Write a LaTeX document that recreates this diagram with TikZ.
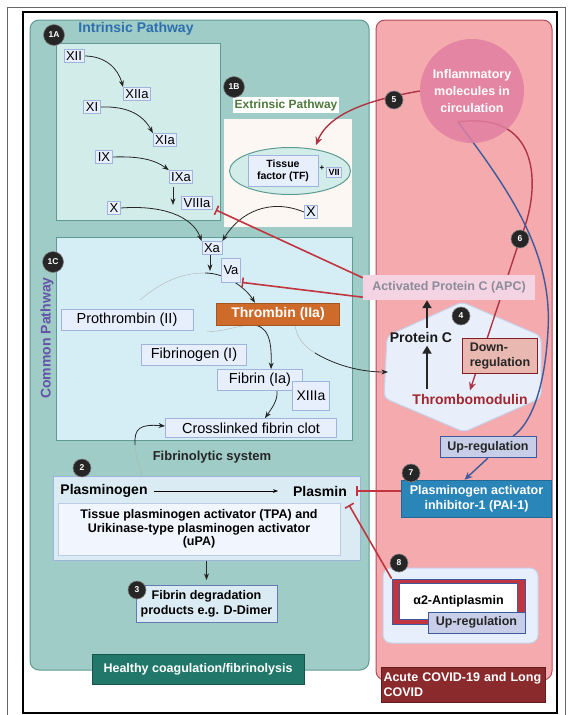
\documentclass[tikz,border=0pt]{standalone}
\usepackage{fontspec}
\setmainfont{Liberation Sans}
\usetikzlibrary{arrows.meta, positioning, shapes.geometric, calc}

\pgfdeclarelayer{panel}
\pgfdeclarelayer{wire}
\pgfsetlayers{panel,wire,main}

\definecolor{tealbg}{HTML}{9FCCC6}
\definecolor{tealln}{HTML}{5E9B94}
\definecolor{intrbg}{HTML}{D2EDE9}
\definecolor{commbg}{HTML}{D5EEF5}
\definecolor{extbg}{HTML}{FCF7F3}
\definecolor{factbg}{HTML}{E8EFFC}
\definecolor{factln}{HTML}{9FB4DC}
\definecolor{fibbg}{HTML}{DAEBF4}
\definecolor{pinkbg}{HTML}{F5AAAE}
\definecolor{pinkln}{HTML}{B24E5C}
\definecolor{inflbg}{HTML}{E07FA2}
\definecolor{inhred}{HTML}{C0353F}
\definecolor{flowred}{HTML}{AE3443}
\definecolor{upblue}{HTML}{3C5A9C}
\definecolor{paibg}{HTML}{2A85B9}
\definecolor{covidbg}{HTML}{8A2A2C}
\definecolor{healthbg}{HTML}{21786A}
\definecolor{thrbg}{HTML}{CE6A2A}
\definecolor{apcbg}{HTML}{F4D4E2}
\definecolor{apctx}{HTML}{8D8B99}
\definecolor{hexbg}{HTML}{E8EEFA}
\definecolor{downbg}{HTML}{E9B8B0}
\definecolor{upbg}{HTML}{C8CEE8}
\definecolor{tmred}{HTML}{A3262F}
\definecolor{extgreen}{HTML}{4D7A3B}
\definecolor{intblue}{HTML}{2E6FAE}
\definecolor{commpurple}{HTML}{6453A8}

\begin{document}
\begin{tikzpicture}[x=1pt, y=-1pt, >=Stealth,
    fact/.style={draw=factln, fill=factbg, line width=0.8pt, inner sep=2pt, font=\fontsize{13}{15}\selectfont},
    lab/.style={draw=factln, fill=factbg, line width=0.8pt, inner sep=0pt, minimum height=21pt, font=\fontsize{14.5}{16}\selectfont},
    badge/.style={circle, fill=black!85, draw=black!50, line width=0.6pt, text=white, inner sep=0pt, minimum size=18pt, font=\fontsize{8.5}{9}\selectfont\bfseries},
    txt/.style={font=\fontsize{12.5}{15}\selectfont\bfseries},
    arr/.style={->, thick, black!85},
    fade/.style={thin, black!30},
    inh/.style={-{Bar[width=10pt, line width=1.6pt]}, inhred, line width=1.6pt},
    bigup/.style={-{Triangle[length=8pt, width=9pt]}, line width=2.2pt, black!85},
    flow/.style={line width=1.4pt, -{Stealth[length=8pt, width=7pt]}}]

    \useasboundingbox (0,0) rectangle (568,715);

    % Panels and frame
    \begin{pgfonlayer}{panel}
        \fill[white] (0,0) rectangle (568,715);
        \draw[black!60, line width=0.6pt] (7,715) -- (7,7) -- (565,7) -- (565,715);
        \draw[line width=2pt] (23,12) rectangle (557,713);
        \draw[tealln, fill=tealbg, rounded corners=9pt, line width=1pt] (30,20) rectangle (369,670);
        \draw[pinkln, fill=pinkbg, rounded corners=9pt, line width=1pt] (376,20) rectangle (552,680);
        \draw[tealln, fill=intrbg, line width=1pt] (56,43) rectangle (220,220);
        \fill[extbg] (224,119) rectangle (352,227);
        \draw[tealln, fill=commbg, line width=1pt] (56,237) rectangle (352,440);
        % Fibrinolysis boxes
        \node[draw=factln, fill=fibbg, line width=1pt, minimum width=307pt, minimum height=84pt, inner sep=0pt] (fib) at (206.5,518) {};
        \node[draw=factln!70, fill=factbg!60!white, line width=0.8pt, minimum width=282pt, minimum height=52pt, inner sep=0pt,
              align=center, font=\fontsize{12.5}{13.5}\selectfont\bfseries] (tpa) at (199,529)
              {Tissue plasminogen activator (TPA) and\\Urikinase-type plasminogen activator\\(uPA)};
        % Protein C hexagon
        \draw[factln!60, fill=hexbg, line width=1pt, rounded corners=5pt]
            (462,302) -- (541,336) -- (541,398) -- (464,432) -- (384,398) -- (387,336) -- cycle;
        % alpha2 panel
        \draw[factln!60, fill=factbg, rounded corners=8pt, line width=1pt] (383,568) rectangle (538,643);
    \end{pgfonlayer}

    % Titles
    \node[font=\fontsize{14}{16}\selectfont\bfseries, text=intblue] (intr) at (136,29) {Intrinsic Pathway};
    \node[fill=white, inner sep=2pt, font=\fontsize{12}{14}\selectfont\bfseries, text=extgreen] (extr) at (286,105) {Extrinsic Pathway};
    \node[rotate=90, font=\fontsize{14}{16}\selectfont\bfseries, text=commpurple] (comm) at (47,338) {Common Pathway};
    \node[font=\fontsize{13}{15}\selectfont\bfseries, text=black!85] (fsys) at (212,457) {Fibrinolytic system};

    % Intrinsic pathway factors
    \foreach \n/\t/\x/\y in {xii/XII/74/56, xiia/XIIa/137/94, xi/XI/92/107, xia/XIa/165/140,
                             ix/IX/104/157, ixa/IXa/181/177, viiia/VIIIa/197/203, xin/X/114/208}
        \node[fact] (\n) at (\x,\y) {\t};

    % Extrinsic pathway
    \node[ellipse, draw=tealln, fill=intrbg, line width=1pt, minimum width=121pt, minimum height=47pt] (tfel) at (290,171) {};
    \node[fact, font=\fontsize{10.5}{12}\selectfont\bfseries, align=center, minimum width=70pt, minimum height=31pt] (tf) at (283,171) {Tissue\\factor (TF)};
    \node[font=\fontsize{8}{9}\selectfont\bfseries, inner sep=0pt] (plus) at (322,168) {+};
    \node[fact, font=\fontsize{9}{10}\selectfont\bfseries] (vii) at (334,172) {VII};
    \node[fact, font=\fontsize{14}{16}\selectfont] (xex) at (311,212) {X};

    % Common pathway
    \node[fact] (xa) at (212,248) {Xa};
    \node[fact, minimum height=24pt] (va) at (231,270) {Va};
    \node[fill=thrbg, draw=thrbg!80!black, text=white, font=\fontsize{14}{16}\selectfont\bfseries,
          minimum width=123pt, minimum height=22pt, inner sep=0pt] (thr) at (278,314) {Thrombin (IIa)};
    \node[lab, minimum width=132pt] (pro) at (127,320) {Prothrombin (II)};
    \node[lab, minimum width=105pt] (fbg) at (194,355) {Fibrinogen (I)};
    \node[lab, minimum width=85pt] (fbn) at (260,380) {Fibrin (Ia)};
    \node[fact, font=\fontsize{14}{16}\selectfont, minimum width=37pt, minimum height=29pt] (xiiia) at (311,396) {XIIIa};
    \node[lab, minimum width=171pt, minimum height=19pt] (cross) at (251,428) {Crosslinked fibrin clot};

    % Fibrinolytic system
    \node[font=\fontsize{14}{16}\selectfont\bfseries, inner sep=1pt] (plg) at (104,491) {Plasminogen};
    \node[font=\fontsize{14}{16}\selectfont\bfseries, inner sep=1pt] (pls) at (320,491) {Plasmin};
    \node[draw=upblue!80, fill=fibbg, line width=1pt, align=center, txt, minimum width=141pt, minimum height=37pt, inner sep=0pt] (fdeg) at (206.5,604)
          {Fibrin degradation\\products e.g. D-Dimer};
    \node[fill=healthbg, draw=healthbg!70!black, text=white, txt, minimum width=212pt, minimum height=30pt] (healthy) at (198,669) {Healthy coagulation/fibrinolysis};

    % COVID side
    \node[circle, fill=inflbg, fill opacity=0.85, text opacity=1, text=white, minimum size=104pt, align=center,
          font=\fontsize{12.5}{17}\selectfont\bfseries] (infl) at (472,91) {Inflammatory\\molecules in\\circulation};
    \node[fill=apcbg, text=apctx, txt, minimum width=172pt, minimum height=25pt, inner sep=0pt] (apc) at (449,287.5) {Activated Protein C (APC)};
    \node[font=\fontsize{14}{16}\selectfont\bfseries, text=black!90] (protc) at (421,337) {Protein C};
    \node[font=\fontsize{14}{16}\selectfont\bfseries, text=tmred] (thm) at (470,399) {Thrombomodulin};
    \node[fill=downbg, draw=tmred!80!black, line width=0.8pt, align=left, txt, text=black!85, minimum width=75pt, minimum height=35pt] (down) at (500,356) {Down-\\regulation};
    \node[fill=upbg, draw=upblue, line width=1pt, txt, text=black!85, minimum width=96pt, minimum height=21pt, inner sep=0pt] (upr) at (488,447) {Up-regulation};
    \node[fill=paibg, draw=paibg!80!black, text=white, align=center, font=\fontsize{12.5}{15}\selectfont\bfseries,
          minimum width=150pt, minimum height=37pt, inner sep=0pt] (pai) at (476.5,498.5) {Plasminogen activator\\inhibitor-1 (PAI-1)};
    \node[draw=upblue, fill=inhred, line width=0.8pt, minimum width=133pt, minimum height=45pt, inner sep=0pt] (a2frame) at (458.5,601.5) {};
    \node[draw=upblue, fill=white, line width=0.6pt, minimum width=118pt, minimum height=36pt, inner sep=0pt, txt] (a2) at (458.5,601.5) {α2-Antiplasmin};
    \node[fill=upbg, draw=upblue, line width=1pt, txt, text=black!85, minimum width=97pt, minimum height=21pt, inner sep=0pt] (upr2) at (476.5,622.5) {Up-regulation};
    \node[fill=covidbg, draw=covidbg!70!black, text=white, align=left, font=\fontsize{12.5}{15}\selectfont\bfseries,
          text width=160pt, minimum height=35pt, inner sep=2pt] (covid) at (463.5,685) {Acute COVID-19 and Long\\COVID};

    % Numbered badges
    \node[badge, minimum size=21pt] (b1a) at (54,35) {1A};
    \node[badge, minimum size=21pt] (b1b) at (234,87) {1B};
    \node[badge, minimum size=21pt] (b1c) at (53,262) {1C};
    \node[badge] (b2) at (82,468) {2};
    \node[badge] (b3) at (137,590) {3};
    \node[badge] (b4) at (461,316) {4};
    \node[badge] (b5) at (394,100) {5};
    \node[badge] (b6) at (520,239) {6};
    \node[badge] (b7) at (411,473) {7};
    \node[badge] (b8) at (399,563) {8};

    % Free ends of curves
    \coordinate (procurve) at (205,273);
    \coordinate (fbgcurve) at (250,325);
    \coordinate (thrcurve) at (315,353);
    \coordinate (hexw) at (388,372);
    \coordinate (plgtop) at (142,476);
    \coordinate (tfin) at (316,145);
    \coordinate (plsbar) at (349,505);
    \coordinate (tmup) at (427,389);
    \coordinate (inflout) at (458,122);

    \begin{pgfonlayer}{wire}
        % Intrinsic cascade
        \draw[arr] (xii.east) .. controls (105,56) and (118,68) .. (xiia.north west);
        \draw[arr] (xi.east) .. controls (128,106) and (143,115) .. (xia.north west);
        \draw[arr] (ix.east) .. controls (140,156) and (155,160) .. (ixa.north west);
        \draw[arr] ([xshift=-8pt,yshift=-3pt]ixa.south) -- ++(0,18);
        \draw[arr] (xin.east) .. controls (160,205) and (192,215) .. (xa.north west);
        \draw[arr] (xex.west) .. controls (270,198) and (240,212) .. (xa.north east);
        \draw[arr] ([xshift=-2pt]xa.south) -- ++(0,16);

        % Common pathway
        \draw[fade] ([xshift=13pt,yshift=9pt]pro.north) .. controls (160,283) and (180,273) .. (procurve);
        \draw[arr] (procurve) .. controls (225,273) and (245,287) .. ([xshift=-23pt]thr.north);
        \draw[fade] ([xshift=13pt,yshift=13pt]fbg.north) .. controls (220,333) and (235,326) .. (fbgcurve);
        \draw[arr] (fbgcurve) .. controls (268,324) and (272,340) .. ([xshift=11pt]fbn.north);
        \draw[fade] ([xshift=17pt]thr.south) .. controls (297,337) and (302,345) .. (thrcurve);
        \draw[arr] (thrcurve) .. controls (335,365) and (360,372) .. (hexw);
        \draw[arr] ([xshift=17pt]fbn.south) .. controls (278,400) and (272,408) .. ([xshift=14pt]cross.north);
        \draw[fade] (plgtop) .. controls (138,462) and (135,452) .. (135,445);
        \draw[arr] (135,445) .. controls (134,428) and (140,424) .. ([yshift=2pt]cross.west);

        % Fibrinolysis
        \draw[->, thin, black] ([xshift=5pt]plg.east) -- ([xshift=-14pt]pls.west);
        \draw[arr] (fib.south) -- ([yshift=5pt]fdeg.north);

        % Inhibitions
        \draw[inh] ([yshift=-3pt]apc.north west) -- ([xshift=3pt]viiia.south east);
        \draw[inh] ([yshift=3pt]apc.south west) -- ([xshift=1pt]va.south east);
        \draw[inh] (pai.west |- pls.east) -- ([xshift=8pt]pls.east);
        \draw[inh] (a2frame.north west) -- (plsbar);

        % Inflammation effects
        \draw[flow, flowred] (infl.west) .. controls (380,98) and (330,110) .. (tfin);
        \draw[flow, flowred] (inflout) .. controls (545,110) and (540,195) .. (b6.center) -- (thm.north);
        \draw[upblue, line width=1.4pt] (inflout) .. controls (505,185) and (553,250) .. (548,330)
            .. controls (545,390) and (530,425) .. ([xshift=25pt]upr.north);
        \draw[flow, upblue] (upr.south) -- ([xshift=-12pt]pai.north);

        % Protein C activation
        \draw[bigup] ([xshift=6pt]protc.north) -- ([xshift=6pt]protc.north |- apc.south);
        \draw[bigup] (tmup) -- (tmup |- protc.south);
    \end{pgfonlayer}
\end{tikzpicture}
\end{document}
